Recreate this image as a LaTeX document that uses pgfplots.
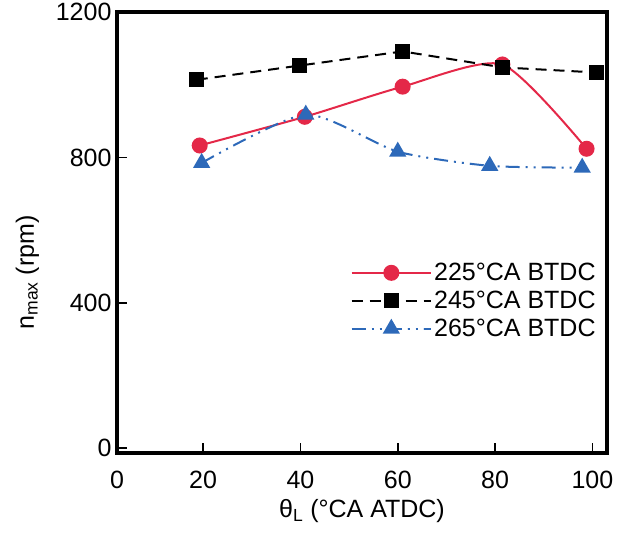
\documentclass[border=0pt]{standalone}
\usepackage{pgfplots}
\pgfplotsset{compat=1.18}
\usepackage{fontspec}
\setmainfont{Liberation Sans}
\definecolor{myred}{RGB}{228,40,72}
\definecolor{myblue}{RGB}{45,105,185}
\begin{document}
\begin{tikzpicture}
\begin{axis}[
 scale only axis, width=490pt, height=441pt,
 xmin=2.3, xmax=103, ymin=-14, ymax=1200,
 xtick={20,40,60,80,100}, ytick={0,400,800,1200},
 xtick pos=bottom, ytick pos=left,
 tick align=inside, major tick length=10pt,
 axis line style={line width=3.5pt},
 tick style={line width=1.8pt, black},
 font=\fontsize{25}{30}\selectfont,
 /pgf/number format/assume math mode=true,
 /pgf/number format/1000 sep={},
 xticklabel style={yshift=-14pt},
 yticklabel style={xshift=-2pt},
 xlabel={θ\textsubscript{L} (°CA ATDC)},
 xlabel style={yshift=-4pt},
 ylabel={n\textsubscript{max} (rpm)},
 ylabel style={at={(ticklabel cs:0.41)}, anchor=south},
 ylabel shift=10pt,
 clip=false,
 legend cell align=left,
 legend style={at={(0.47,0.44)}, anchor=north west, draw=none, fill=none,
   font=\fontsize{25}{30}\selectfont, row sep=5pt},
 legend image code/.code={\draw[mark repeat=2,mark phase=2] plot coordinates {(0cm,0cm) (1.4cm,0cm) (2.8cm,0cm)};},
]
\addplot[myred, line width=2pt, smooth, tension=0.4, mark=*, mark size=7pt, mark options={solid, fill=myred}]
 coordinates {(19.3,833) (40.9,912) (61,995) (81.5,1056) (98.8,824)};
\addlegendentry{225°CA BTDC}
\addplot[black, line width=2pt, dash pattern=on 11pt off 7pt, mark=square*, mark size=6.5pt, mark options={solid, fill=black}]
 coordinates {(18.7,1014) (39.8,1053) (61,1092) (81.5,1048) (100.8,1034)};
\addlegendentry{245°CA BTDC}
\addplot[myblue, line width=2pt, smooth, tension=0.4, dash pattern=on 14pt off 6pt on 2pt off 6pt on 2pt off 6pt, mark=triangle*, mark size=8pt, mark options={solid, fill=myblue}]
 coordinates {(19.7,785) (41.1,918) (60,816) (78.9,777) (97.9,772)};
\addlegendentry{265°CA BTDC}
\node[anchor=north, yshift=-14pt, inner sep=0.333em] at (rel axis cs:0,0) {0};
\end{axis}
\path (current axis.south west) ++(-117pt,-86pt);
\path (current axis.north east) ++(23pt,12pt);
\end{tikzpicture}
\end{document}
